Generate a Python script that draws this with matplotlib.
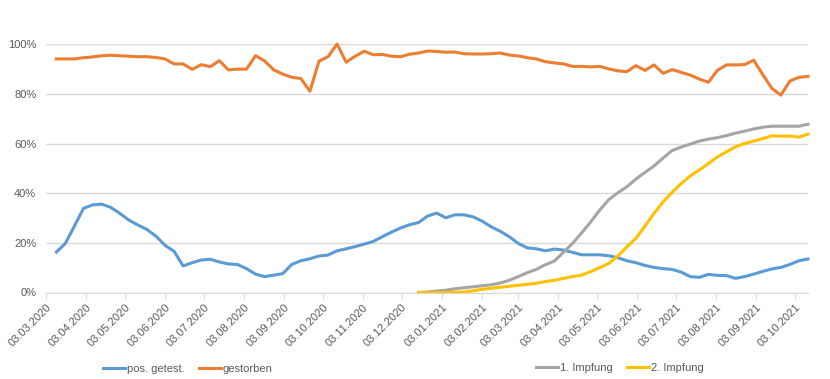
import matplotlib
matplotlib.use("Agg")
import matplotlib.pyplot as plt
import numpy as np
import pandas as pd

#########################
# DATA (weekly, percent)
#########################

START = "2020-03-11"
N_WEEKS = 84

pos_getest = [16.3, 19.8, 26.8, 33.9, 35.3, 35.6, 34.3, 31.9, 29.2, 27.2,
              25.4, 22.7, 19.0, 16.6, 10.7, 12.0, 13.1, 13.4, 12.3, 11.5,
              11.3, 9.6, 7.4, 6.4, 7.0, 7.6, 11.3, 12.8, 13.6, 14.7,
              15.1, 16.8, 17.6, 18.5, 19.5, 20.6, 22.5, 24.3, 26.0, 27.3,
              28.2, 30.8, 32.0, 30.1, 31.3, 31.3, 30.5, 28.8, 26.5, 24.7,
              22.5, 19.8, 18.0, 17.6, 16.8, 17.5, 17.1, 16.2, 15.2, 15.2,
              15.2, 14.8, 14.0, 12.8, 12.0, 10.9, 10.1, 9.6, 9.3, 8.2,
              6.4, 6.1, 7.3, 6.9, 6.8, 5.7, 6.4, 7.4, 8.5, 9.5,
              10.1, 11.3, 12.8, 13.5]

gestorben = [94.1, 94.1, 94.1, 94.6, 94.9, 95.4, 95.6, 95.4, 95.2, 95.0,
             95.0, 94.7, 94.1, 92.1, 92.1, 89.9, 91.8, 91.0, 93.4, 89.7,
             90.0, 90.0, 95.4, 93.3, 89.7, 88.0, 86.7, 86.2, 81.1, 93.2,
             95.0, 100.1, 92.8, 95.2, 97.2, 95.8, 95.9, 95.2, 95.0, 96.0,
             96.5, 97.3, 97.1, 96.8, 96.9, 96.2, 96.1, 96.1, 96.2, 96.5,
             95.7, 95.3, 94.6, 94.1, 93.0, 92.5, 92.1, 91.1, 91.1, 90.9,
             91.1, 90.1, 89.3, 89.0, 91.4, 89.5, 91.7, 88.3, 89.8, 88.7,
             87.6, 86.0, 84.7, 89.5, 91.7, 91.7, 91.8, 93.6, 87.8, 82.3,
             79.5, 85.2, 86.7, 87.1]

# vaccination series start at week 40
impfung_1 = [np.nan] * 40 + [
    0.0, 0.2, 0.6, 0.9, 1.5, 1.9, 2.3, 2.7, 3.1, 3.8,
    4.9, 6.4, 8.0, 9.3, 11.2, 12.7, 16.2, 19.8, 24.0, 28.4,
    33.2, 37.4, 40.2, 42.6, 45.7, 48.4, 51.0, 54.2, 57.2, 58.6,
    59.8, 61.0, 61.8, 62.4, 63.2, 64.2, 65.0, 65.9, 66.6, 67.0,
    67.0, 67.0, 67.0, 67.8]

impfung_2 = [np.nan] * 40 + [
    0.0, 0.0, 0.0, 0.0, 0.1, 0.2, 0.7, 1.3, 1.7, 2.1,
    2.5, 2.9, 3.3, 3.7, 4.4, 4.9, 5.7, 6.4, 7.0, 8.4,
    10.0, 11.7, 14.7, 18.4, 21.8, 26.8, 31.9, 36.5, 40.4, 43.9,
    47.0, 49.3, 52.0, 54.6, 56.7, 58.7, 60.0, 61.0, 62.0, 63.1,
    63.0, 63.0, 62.6, 63.8]

TICK_START = "2020-03-03"

#########################
# PLOT
#########################

weeks = pd.date_range(START, periods=N_WEEKS, freq="7D")
ticks = pd.date_range("2020-03-01", "2021-10-01", freq="MS") + pd.Timedelta(days=2)

fig = plt.figure(figsize=(8.3, 3.79), dpi=100)
ax = fig.add_axes([46 / 830, 1 - 292.5 / 379, 762 / 830, 248.2 / 379])

series = [
    (pos_getest, "pos. getest.", "#5B9BD5"),
    (gestorben, "gestorben", "#ED7D31"),
    (impfung_1, "1. Impfung", "#A5A5A5"),
    (impfung_2, "2. Impfung", "#FFC000"),
]
lines = []
for vals, label, color in series:
    ln, = ax.plot(weeks, np.array(vals) / 100, color=color, lw=2.2,
                  label=label, clip_on=False, solid_joinstyle="round")
    lines.append(ln)

ax.set_xlim(pd.Timestamp(TICK_START), weeks[-1])
ax.set_ylim(0, 1.0)
ax.set_yticks(np.arange(0, 1.01, 0.2))
ax.set_yticklabels([f"{int(round(v * 100))}%" for v in np.arange(0, 1.01, 0.2)])
ax.grid(axis="y", color="#d9d9d9", lw=1)
ax.set_axisbelow(True)

ax.set_xticks(ticks)
ax.set_xticklabels([t.strftime("%d.%m.%Y") for t in ticks], rotation=45,
                   ha="right", va="top", rotation_mode="anchor")

for s in ["top", "right", "left"]:
    ax.spines[s].set_visible(False)
ax.spines["bottom"].set_color("#d9d9d9")
ax.tick_params(axis="y", length=0, pad=7, labelsize=8, labelcolor="#595959")
ax.tick_params(axis="x", length=4, color="#d9d9d9", pad=3, labelsize=8,
               labelcolor="#595959")

font = ["Liberation Sans", "DejaVu Sans"]
for lbl in ax.get_xticklabels() + ax.get_yticklabels():
    lbl.set_family(font)

leg_kw = dict(ncol=2, frameon=False, handlelength=2.0, handletextpad=0.15,
              columnspacing=1.3, prop={"family": font, "size": 8},
              labelcolor="#595959", loc="center")
leg1 = fig.legend(lines[:2], ["pos. getest.", "gestorben"],
                  bbox_to_anchor=(188 / 830, 1 - 369 / 379), **leg_kw)
leg2 = fig.legend(lines[2:], ["1. Impfung", "2. Impfung"],
                  bbox_to_anchor=(620 / 830, 1 - 368 / 379), **leg_kw)

fig.savefig("out.png", dpi=100)
plt.close(fig)
